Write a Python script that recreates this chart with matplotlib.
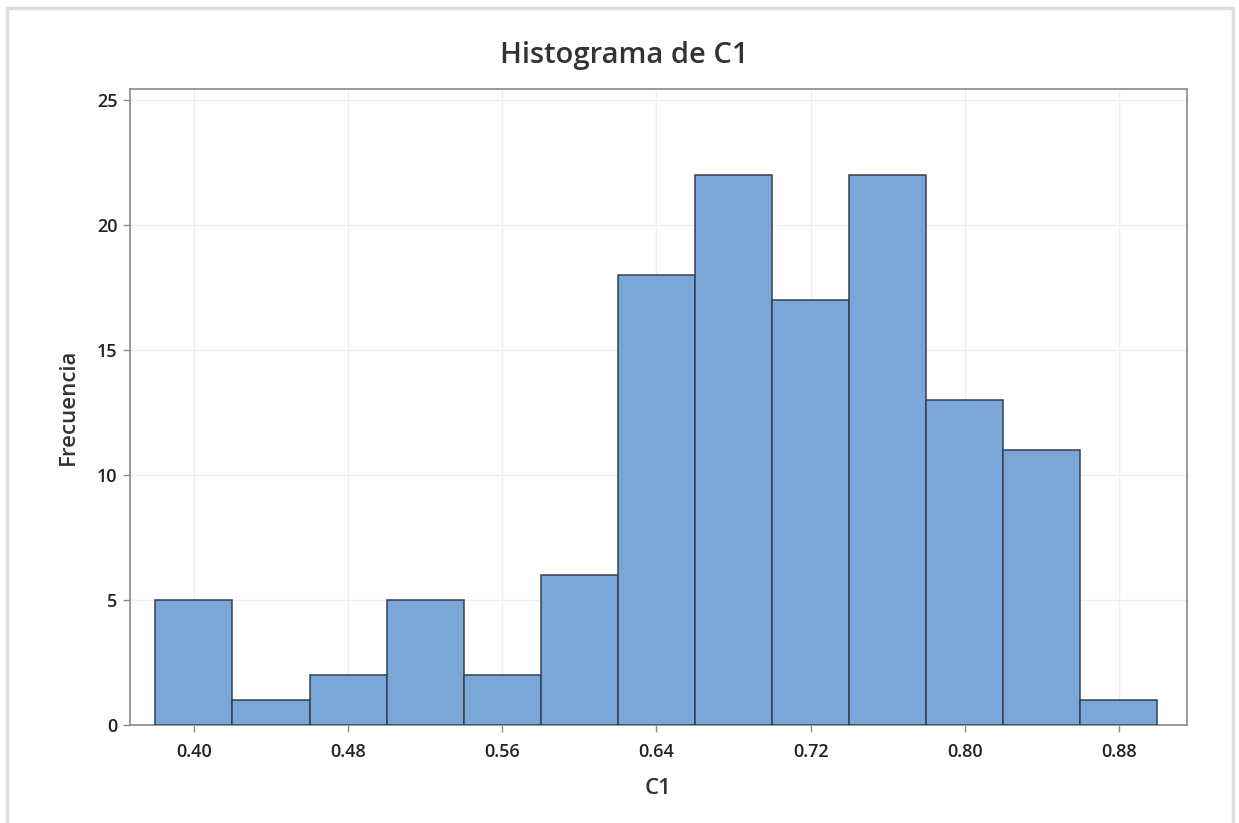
import matplotlib
matplotlib.use("Agg")
import matplotlib.pyplot as plt
from matplotlib.patches import Rectangle

plt.rcParams['font.family'] = ['Open Sans', 'DejaVu Sans']

# histogram of C1: bin centers and counts
centers = [0.40, 0.44, 0.48, 0.52, 0.56, 0.60, 0.64, 0.68, 0.72, 0.76, 0.80, 0.84, 0.88]
counts = [5, 1, 2, 5, 2, 6, 18, 22, 17, 22, 13, 11, 1]
bin_width = 0.04
xticks = [0.40, 0.48, 0.56, 0.64, 0.72, 0.80, 0.88]
yticks = [0, 5, 10, 15, 20, 25]

fig = plt.figure(figsize=(12.39, 8.23), dpi=100)
ax = fig.add_axes([0.1049, 0.1191, 0.8531, 0.7728])

# light frame around the whole graph
fig.patches.append(Rectangle((0.006, -0.01), 0.989, 1.0, transform=fig.transFigure,
                             fill=False, edgecolor='#dedede', linewidth=2.5))

ax.bar(centers, counts, width=bin_width, color='#7BA6D8', edgecolor='#36404d',
       linewidth=1.1, zorder=3)

ax.set_xlim(0.3668, 0.9153)
ax.set_ylim(0, 25.45)
ax.set_xticks(xticks)
ax.set_xticklabels(['%.2f' % v for v in xticks])
ax.set_yticks(yticks)
ax.grid(True, color='#eeeeee', linewidth=1.0, zorder=0)

for s in ax.spines.values():
    s.set_color('#8a8a8a')
    s.set_linewidth(1.2)

ax.tick_params(axis='both', colors='#8a8a8a', labelcolor='#222222', labelsize=13,
               length=5, width=1)
ax.tick_params(axis='x', pad=8)
ax.tick_params(axis='y', pad=4)
for lab in ax.get_xticklabels() + ax.get_yticklabels():
    lab.set_fontweight('semibold')

fig.text(0.504, 0.933, 'Histograma de C1', fontsize=21, color='#333333',
         ha='center', va='center', fontweight='semibold')
ax.set_xlabel('C1', fontsize=16, color='#333333', labelpad=12, fontweight='semibold')
ax.set_ylabel('Frecuencia', fontsize=16, color='#333333', labelpad=13, fontweight='semibold')

fig.savefig('out.png', dpi=100)
